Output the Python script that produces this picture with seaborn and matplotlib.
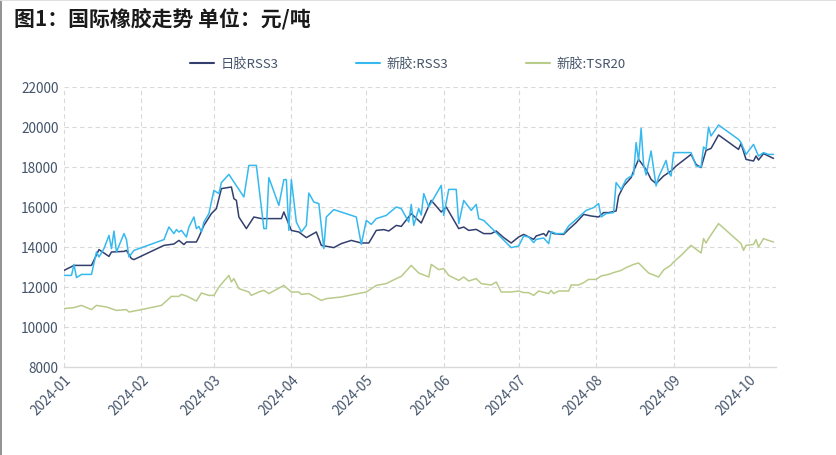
import matplotlib
matplotlib.use("Agg")
import matplotlib.pyplot as plt
import matplotlib.dates as mdates
from matplotlib.lines import Line2D
import seaborn as sns
import pandas as pd

# ---------------- data ----------------
series_names = ["日胶RSS3", "新胶:RSS3", "新胶:TSR20"]

jp_dates = ["2024-01-01", "2024-01-05", "2024-01-12", "2024-01-15", "2024-01-19", "2024-01-20",
            "2024-01-25", "2024-01-26", "2024-01-28", "2024-01-29", "2024-02-10", "2024-02-14",
            "2024-02-16", "2024-02-18", "2024-02-19", "2024-02-23", "2024-02-24", "2024-02-26",
            "2024-02-29", "2024-03-02", "2024-03-04", "2024-03-08", "2024-03-09", "2024-03-10",
            "2024-03-11", "2024-03-14", "2024-03-17", "2024-03-20", "2024-03-28", "2024-03-29",
            "2024-04-01", "2024-04-04", "2024-04-07", "2024-04-11", "2024-04-13", "2024-04-18",
            "2024-04-21", "2024-04-25", "2024-04-29", "2024-05-02", "2024-05-05", "2024-05-08",
            "2024-05-10", "2024-05-13", "2024-05-15", "2024-05-19", "2024-05-23", "2024-05-27",
            "2024-05-31", "2024-06-02", "2024-06-07", "2024-06-09", "2024-06-11", "2024-06-14",
            "2024-06-17", "2024-06-20", "2024-06-22", "2024-06-25", "2024-06-28", "2024-07-01",
            "2024-07-03", "2024-07-07", "2024-07-08", "2024-07-11", "2024-07-12", "2024-07-13",
            "2024-07-15", "2024-07-19", "2024-07-21", "2024-07-24", "2024-07-27", "2024-07-30",
            "2024-08-02", "2024-08-04", "2024-08-06", "2024-08-09", "2024-08-10", "2024-08-12",
            "2024-08-15", "2024-08-16", "2024-08-18", "2024-08-21", "2024-08-23", "2024-08-25",
            "2024-08-28", "2024-08-31", "2024-09-02", "2024-09-08", "2024-09-10", "2024-09-12",
            "2024-09-14", "2024-09-16", "2024-09-19", "2024-09-27", "2024-09-28", "2024-09-30",
            "2024-10-03", "2024-10-04", "2024-10-05", "2024-10-07", "2024-10-09", "2024-10-11"]
jp_values = [12830, 13080, 13080, 13870, 13530, 13750,
             13780, 13830, 13420, 13370, 14080, 14150,
             14330, 14120, 14250, 14250, 14500, 15080,
             15670, 15920, 16920, 17000, 16420, 16330,
             15500, 14920, 15500, 15420, 15420, 15750,
             14830, 14750, 14470, 14750, 14080, 13970,
             14170, 14330, 14200, 14200, 14830, 14870,
             14800, 15080, 15030, 15670, 15200, 16330,
             15750, 16000, 14920, 15000, 14830, 14880,
             14670, 14670, 14800, 14470, 14200, 14500,
             14630, 14380, 14550, 14670, 14550, 14800,
             14670, 14630, 14880, 15220, 15630, 15550,
             15500, 15720, 15720, 15800, 16550, 17050,
             17470, 17800, 18380, 17880, 17380, 17170,
             17550, 17800, 18050, 18630, 18130, 17970,
             18830, 18930, 19600, 18880, 19170, 18380,
             18300, 18550, 18350, 18670, 18550, 18430]

sg_dates = ["2024-01-01", "2024-01-04", "2024-01-05", "2024-01-06", "2024-01-08", "2024-01-12",
            "2024-01-14", "2024-01-15", "2024-01-17", "2024-01-19", "2024-01-20", "2024-01-21",
            "2024-01-22", "2024-01-25", "2024-01-26", "2024-01-27", "2024-01-29", "2024-02-10",
            "2024-02-12", "2024-02-14", "2024-02-15", "2024-02-16", "2024-02-17", "2024-02-19",
            "2024-02-20", "2024-02-22", "2024-02-23", "2024-02-24", "2024-02-25", "2024-02-26",
            "2024-02-28", "2024-03-01", "2024-03-03", "2024-03-04", "2024-03-07", "2024-03-13",
            "2024-03-15", "2024-03-18", "2024-03-21", "2024-03-22", "2024-03-23", "2024-03-27",
            "2024-03-29", "2024-03-30", "2024-03-31", "2024-04-01", "2024-04-03", "2024-04-05",
            "2024-04-07", "2024-04-08", "2024-04-10", "2024-04-12", "2024-04-14", "2024-04-15",
            "2024-04-18", "2024-04-27", "2024-04-29", "2024-05-01", "2024-05-03", "2024-05-05",
            "2024-05-09", "2024-05-13", "2024-05-15", "2024-05-18", "2024-05-19", "2024-05-20",
            "2024-05-22", "2024-05-23", "2024-05-24", "2024-05-26", "2024-05-31", "2024-06-01",
            "2024-06-03", "2024-06-06", "2024-06-07", "2024-06-09", "2024-06-12", "2024-06-14",
            "2024-06-15", "2024-06-17", "2024-06-24", "2024-06-28", "2024-07-01", "2024-07-03",
            "2024-07-05", "2024-07-07", "2024-07-08", "2024-07-11", "2024-07-13", "2024-07-14",
            "2024-07-16", "2024-07-19", "2024-07-21", "2024-07-24", "2024-07-28", "2024-07-31",
            "2024-08-02", "2024-08-03", "2024-08-05", "2024-08-08", "2024-08-09", "2024-08-11",
            "2024-08-13", "2024-08-16", "2024-08-17", "2024-08-18", "2024-08-19", "2024-08-20",
            "2024-08-21", "2024-08-23", "2024-08-25", "2024-08-26", "2024-08-29", "2024-08-30",
            "2024-08-31", "2024-09-01", "2024-09-08", "2024-09-10", "2024-09-12", "2024-09-13",
            "2024-09-14", "2024-09-15", "2024-09-16", "2024-09-19", "2024-09-27", "2024-09-28",
            "2024-09-30", "2024-10-03", "2024-10-05", "2024-10-07", "2024-10-09", "2024-10-11"]
sg_values = [12580, 12580, 13130, 12470, 12630, 12630,
             13750, 13500, 13920, 14580, 13920, 14800,
             13750, 14670, 14370, 13500, 13830, 14370,
             15000, 14670, 14870, 14750, 14830, 14500,
             15000, 15500, 14920, 15030, 14750, 15250,
             15670, 16830, 16670, 17220, 17630, 16500,
             18080, 18080, 14920, 14920, 17470, 16080,
             17370, 17370, 14830, 17370, 15250, 14750,
             15080, 16700, 16250, 16170, 13920, 15500,
             15870, 15500, 14130, 15330, 15130, 15420,
             15580, 16000, 15920, 15250, 16130, 15080,
             15920, 15600, 16670, 16000, 17080, 15580,
             16880, 16880, 15170, 16330, 15830, 16130,
             15420, 15330, 14470, 13970, 14050, 14550,
             14500, 14220, 14380, 14450, 14170, 14770,
             14670, 14670, 15050, 15380, 15830, 15970,
             16170, 15500, 15670, 15720, 17220, 16880,
             17380, 17630, 19220, 18300, 19930, 18130,
             17600, 18800, 17050, 17500, 18330, 17720,
             17550, 18720, 18720, 18050, 18000, 19000,
             18880, 20000, 19550, 20100, 19380, 19220,
             18630, 19130, 18550, 18720, 18630, 18630]

tsr_dates = ["2024-01-01", "2024-01-05", "2024-01-08", "2024-01-12", "2024-01-14", "2024-01-18",
             "2024-01-22", "2024-01-26", "2024-01-27", "2024-02-01", "2024-02-09", "2024-02-13",
             "2024-02-16", "2024-02-17", "2024-02-19", "2024-02-23", "2024-02-25", "2024-02-28",
             "2024-03-01", "2024-03-03", "2024-03-07", "2024-03-08", "2024-03-09", "2024-03-11",
             "2024-03-15", "2024-03-16", "2024-03-19", "2024-03-21", "2024-03-23", "2024-03-29",
             "2024-04-01", "2024-04-04", "2024-04-05", "2024-04-08", "2024-04-13", "2024-04-15",
             "2024-04-21", "2024-04-26", "2024-05-01", "2024-05-05", "2024-05-09", "2024-05-13",
             "2024-05-15", "2024-05-19", "2024-05-22", "2024-05-26", "2024-05-27", "2024-05-30",
             "2024-06-01", "2024-06-03", "2024-06-07", "2024-06-09", "2024-06-11", "2024-06-14",
             "2024-06-16", "2024-06-20", "2024-06-22", "2024-06-24", "2024-06-28", "2024-07-01",
             "2024-07-03", "2024-07-05", "2024-07-07", "2024-07-09", "2024-07-13", "2024-07-14",
             "2024-07-15", "2024-07-17", "2024-07-21", "2024-07-22", "2024-07-25", "2024-07-27",
             "2024-07-29", "2024-08-01", "2024-08-03", "2024-08-06", "2024-08-08", "2024-08-11",
             "2024-08-13", "2024-08-16", "2024-08-18", "2024-08-22", "2024-08-26", "2024-08-28",
             "2024-08-31", "2024-09-01", "2024-09-04", "2024-09-08", "2024-09-12", "2024-09-13",
             "2024-09-14", "2024-09-15", "2024-09-19", "2024-09-28", "2024-09-29", "2024-09-30",
             "2024-10-03", "2024-10-04", "2024-10-05", "2024-10-07", "2024-10-09", "2024-10-11"]
tsr_values = [10920, 10970, 11080, 10870, 11080, 11000,
              10830, 10870, 10750, 10870, 11080, 11530,
              11530, 11630, 11550, 11300, 11700, 11580,
              11580, 12000, 12580, 12250, 12420, 11920,
              11750, 11580, 11750, 11830, 11670, 12080,
              11750, 11750, 11630, 11670, 11330, 11420,
              11500, 11630, 11750, 12080, 12170, 12420,
              12530, 13080, 12700, 12500, 13130, 12870,
              12920, 12580, 12330, 12500, 12300, 12420,
              12170, 12100, 12250, 11750, 11750, 11800,
              11720, 11720, 11580, 11800, 11670, 11830,
              11670, 11800, 11800, 12100, 12100, 12220,
              12380, 12380, 12550, 12630, 12720, 12830,
              12970, 13130, 13200, 12700, 12500, 12850,
              13100, 13250, 13580, 14080, 13700, 14420,
              14200, 14420, 15170, 14170, 13830, 14080,
              14130, 14370, 14000, 14420, 14330, 14250]

y_ticks = [8000, 10000, 12000, 14000, 16000, 18000, 20000, 22000]
x_tick_labels = ["2024-01", "2024-02", "2024-03", "2024-04", "2024-05",
                 "2024-06", "2024-07", "2024-08", "2024-09", "2024-10"]
title_text = "图1：国际橡胶走势 单位：元/吨"

# ---------------- build frame ----------------
frames = []
for name, d, v in zip(series_names, [jp_dates, sg_dates, tsr_dates],
                      [jp_values, sg_values, tsr_values]):
    frames.append(pd.DataFrame({"date": pd.to_datetime(d), "value": v, "series": name}))
df = pd.concat(frames, ignore_index=True)

colors = {"日胶RSS3": "#333f6d", "新胶:RSS3": "#36b9ef", "新胶:TSR20": "#b9cb8a"}

sns.set_theme(style="white")
plt.rcParams["font.family"] = ["Noto Sans CJK SC", "DejaVu Sans"]

fig = plt.figure(figsize=(8.37, 4.55), dpi=100)
ax = fig.add_axes([64 / 837, 1 - 367 / 455, (776 - 64) / 837, (367 - 87) / 455])

sns.lineplot(data=df, x="date", y="value", hue="series", hue_order=series_names,
             palette=colors, estimator=None, sort=True, linewidth=1.1, ax=ax, legend=False)

ax.set_ylim(8000, 22000)
ax.set_yticks(y_ticks)
ax.set_xlim(pd.Timestamp("2024-01-01"), pd.Timestamp("2024-10-12"))
ax.set_xticks(pd.to_datetime([s + "-01" for s in x_tick_labels]))
ax.set_xticklabels(x_tick_labels, rotation=45, ha="right", rotation_mode="anchor")

tick_color = "#44546a"
ax.tick_params(axis="y", colors=tick_color, labelsize=9.8, length=0, pad=4)
ax.tick_params(axis="x", colors=tick_color, labelsize=9.8, length=0, pad=4)
for lab in ax.get_xticklabels() + ax.get_yticklabels():
    lab.set_color(tick_color)

ax.grid(True, color="#d9d9d9", linestyle=(0, (4, 3)), linewidth=0.8)
for s in ["top", "right", "left"]:
    ax.spines[s].set_visible(False)
ax.spines["bottom"].set_color("#d9d9d9")
ax.spines["bottom"].set_linewidth(1.0)
ax.set_xlabel("")
ax.set_ylabel("")

handles = [Line2D([0], [0], color=colors[n], lw=1.5) for n in series_names]
leg = fig.legend(handles, series_names, loc="center", bbox_to_anchor=(408 / 837, 1 - 64 / 455),
                 ncol=3, frameon=False, fontsize=9.5, handlelength=1.8, columnspacing=5.9,
                 handletextpad=0.5)
for t in leg.get_texts():
    t.set_color(tick_color)

fig.text(14 / 837, 1 - 19 / 455, title_text, fontsize=15, fontweight="bold",
         color="#1a1a1a", ha="left", va="center")

# frame lines of the screenshot
fig.add_artist(Line2D([0.0015, 0.0015], [0, 1], transform=fig.transFigure, color="#7f7f7f", lw=1.2))
fig.add_artist(Line2D([0, 1], [0.999, 0.999], transform=fig.transFigure, color="#e0e0e0", lw=0.8))

fig.savefig("out.png", dpi=100)
